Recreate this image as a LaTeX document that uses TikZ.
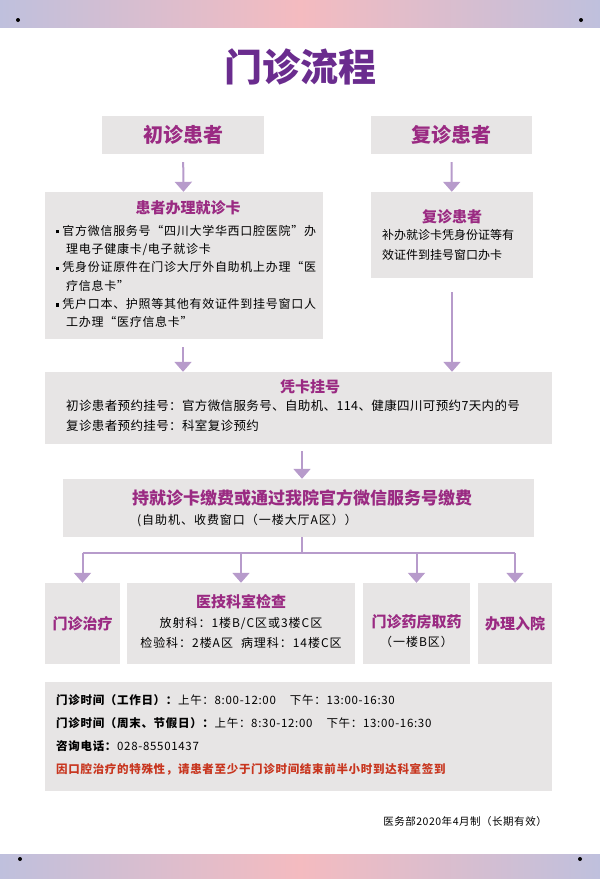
\documentclass[tikz,border=0pt]{standalone}
\usepackage{fontspec}
\setmainfont{Noto Sans CJK SC}
\usetikzlibrary{arrows.meta}

\definecolor{boxgray}{HTML}{E7E5E5}
\definecolor{titlepurple}{HTML}{6A2C8E}
\definecolor{headmag}{HTML}{9A2A82}
\definecolor{arrowlav}{HTML}{B79BCB}
\definecolor{notered}{HTML}{C8361F}
\definecolor{bandlav}{HTML}{BFC0DD}
\definecolor{bandpink}{HTML}{F4BBC0}

\newcommand{\bul}{\raisebox{0.3ex}{\rule{3.2pt}{3.2pt}}\hspace{3pt}}
\newcommand{\spaced}[1]{\addfontfeature{LetterSpace=#1}}

\tikzset{
    box/.style={fill=boxgray, inner sep=0pt},
    bighead/.style={font=\bfseries\fontsize{20}{24}\selectfont, text=headmag},
    head/.style={font=\bfseries\fontsize{15}{18}\selectfont, text=headmag},
    body/.style={font=\fontsize{12}{18.3}\selectfont, align=left, inner sep=0pt},
    flow/.style={draw=arrowlav, line width=2pt},
    arr/.style={flow, -{Triangle[width=17pt,length=10pt]}}
}

\begin{document}
\begin{tikzpicture}[x=1pt,y=-1pt]
    \useasboundingbox (0,0) rectangle (600,879);
    % bands top and bottom
    \shade[left color=bandlav, right color=bandpink] (0,0) rectangle (300,27);
    \shade[left color=bandpink, right color=bandlav] (300,0) rectangle (600,27);
    \shade[left color=bandlav, right color=bandpink] (0,854) rectangle (300,879);
    \shade[left color=bandpink, right color=bandlav] (300,854) rectangle (600,879);
    \foreach \p in {(18,20),(581,20),(20,859),(580,859)}
        \fill[black] \p circle (2pt);

    \node[font=\bfseries\fontsize{38}{42}\selectfont, text=titlepurple] (title) at (300,67) {门诊流程};

    % boxes
    \node[box, minimum width=162pt, minimum height=38pt] (first) at (183,135) {};
    \node[box, minimum width=161pt, minimum height=38pt] (revisit) at (451.5,135) {};
    \node[box, minimum width=278pt, minimum height=147pt] (card) at (184,265.5) {};
    \node[box, minimum width=162pt, minimum height=86pt] (recard) at (452,235) {};
    \node[box, minimum width=507pt, minimum height=72pt] (reg) at (298.5,408) {};
    \node[box, minimum width=471pt, minimum height=58pt] (pay) at (298.5,508) {};
    \node[box, minimum width=75pt, minimum height=81pt] (treat) at (82.5,623.5) {};
    \node[box, minimum width=228pt, minimum height=81pt] (exam) at (241,623.5) {};
    \node[box, minimum width=107pt, minimum height=81pt] (pharm) at (416.5,623.5) {};
    \node[box, minimum width=74pt, minimum height=81pt] (admit) at (515,623.5) {};
    \node[box, minimum width=507pt, minimum height=109pt] (info) at (298.5,736.5) {};

    % texts
    \node[bighead] (firsttext) at (first) {初诊患者};
    \node[bighead] (revisittext) at (revisit) {复诊患者};

    \node[head] (cardhead) at (188,208) {患者办理就诊卡};
    \node[body, font=\fontsize{12}{18.3}\selectfont\spaced{6}, anchor=north west] (cardtext) at (56,225) {\bul 官方微信服务号“四川大学华西口腔医院”办\\
        \hspace*{10pt}理电子健康卡/电子就诊卡\\
        \bul 凭身份证原件在门诊大厅外自助机上办理“医\\
        \hspace*{10pt}疗信息卡”\\
        \bul 凭户口本、护照等其他有效证件到挂号窗口人\\
        \hspace*{10pt}工办理“医疗信息卡”};

    \node[head] (recardhead) at (452,217) {复诊患者};
    \node[body, font=\fontsize{12}{20}\selectfont, anchor=north west] (recardtext) at (382,229) {补办就诊卡凭身份证等有\\效证件到挂号窗口办卡};

    \node[head] (reghead) at (310,387) {凭卡挂号};
    \node[body, font=\fontsize{12.5}{20}\selectfont\spaced{3}, anchor=north west] (regtext) at (66,400) {初诊患者预约挂号：官方微信服务号、自助机、114、健康四川可预约7天内的号\\复诊患者预约挂号：科室复诊预约};

    \node[head, font=\bfseries\fontsize{17}{20}\selectfont] (payhead) at (302,498) {持就诊卡缴费或通过我院官方微信服务号缴费};
    \node[body, font=\fontsize{12}{18}\selectfont\spaced{8}, anchor=west] (paytext) at (137,521) {(自助机、收费窗口（一楼大厅A区））};

    \node[head] (treattext) at (treat) {门诊治疗};
    \node[head] (examhead) at (241,602) {医技科室检查};
    \node[body, font=\fontsize{12}{20}\selectfont\spaced{8}, align=center] (examtext) at (241,633) {放射科：1楼B/C区或3楼C区\\检验科：2楼A区\hspace{8pt}病理科：14楼C区};
    \node[head] (pharmhead) at (416.5,622) {门诊药房取药};
    \node[body, font=\fontsize{12}{18}\selectfont\spaced{8}] (pharmtext) at (416.5,642) {（一楼B区）};
    \node[head] (admittext) at (admit) {办理入院};

    \node[body, font=\fontsize{11.5}{23}\selectfont\spaced{6}, anchor=north west] (infotext) at (56,694) {\textbf{门诊时间（工作日）：}上午：8:00-12:00\hspace{14pt}下午：13:00-16:30\\
        \textbf{门诊时间（周末、节假日）：}上午：8:30-12:00\hspace{14pt}下午：13:00-16:30\\
        \textbf{咨询电话：}028-85501437\\
        \textcolor{notered}{\textbf{因口腔治疗的特殊性，请患者至少于门诊时间结束前半小时到达科室签到}}};

    \node[body, font=\fontsize{10.5}{12}\selectfont\spaced{5}, anchor=east] (footer) at (547,821) {医务部2020年4月制（长期有效）};

    % arrows
    \draw[arr, shorten <=8pt] (first) -- (card);
    \draw[arr, shorten <=8pt] (revisit) -- (recard);
    \draw[arr, shorten <=8pt] (card.south -| first) -- (reg.north -| first);
    \draw[arr, shorten <=14pt] (recard) -- (reg.north -| recard);
    \draw[arr, shorten <=7pt] (reg.south -| pay.north) ++(3.5,0) coordinate (regout) -- (regout |- pay.north);
    \coordinate (bus) at (302,553);
    \draw[flow] (bus |- pay.south) -- (bus);
    \draw[flow] (treat.north |- bus) -- (admit.north |- bus);
    \foreach \b in {treat, exam, pharm, admit}
        \draw[arr] (\b.north |- bus) -- (\b.north);
\end{tikzpicture}
\end{document}
